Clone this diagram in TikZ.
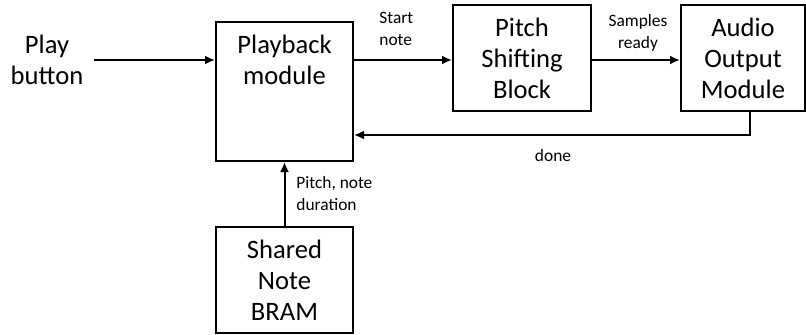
\documentclass[tikz,border=0pt]{standalone}
\usepackage{fontspec}
\setmainfont{Carlito}
\usetikzlibrary{arrows.meta}

\tikzset{
  block/.style={draw, line width=1pt, inner sep=0pt, align=center, font=\fontsize{13.3}{15.5}\selectfont},
  big/.style={align=center, inner sep=1pt, font=\fontsize{13.3}{15.5}\selectfont},
  small/.style={inner sep=0pt, font=\fontsize{8.7}{11}\selectfont},
  sig/.style={line width=1pt, -{Latex[length=5pt,width=4.5pt]}}
}

\begin{document}
\begin{tikzpicture}[x=0.5pt, y=-0.5pt]
\useasboundingbox (0,0) rectangle (806,334);

%Blocks
\node[big] (play) at (47,60) {Play\\button};
\node[block, minimum width=68.5pt, minimum height=69.5pt] (playback) at (284.5,91.5) {};
\node[big, anchor=north] (playbacktxt) at (284.5,33) {Playback\\module};
\node[block, minimum width=69pt, minimum height=53pt] (pitch) at (522,58) {Pitch\\Shifting\\Block};
\node[block, minimum width=62pt, minimum height=53pt] (audio) at (743,58) {Audio\\Output\\Module};
\node[block, minimum width=68.5pt, minimum height=53pt] (bram) at (284.5,280) {Shared\\Note\\BRAM};

%Labels
\node[small, anchor=west, align=left] (startlbl) at (379,29) {Start\\note};
\node[small, align=center] (sampleslbl) at (638,33) {Samples\\ready};
\node[small] (donelbl) at (553,156) {done};
\node[small, anchor=west, align=left] (pitchlbl) at (296,194) {Pitch, note\\duration};

%Arrows
\coordinate (playstart) at (94,60);
\coordinate (doneturn) at (750,135);
\draw[sig] (playstart) -- (playstart -| playback.west);
\draw[sig] (playstart -| playback.east) -- (playstart -| pitch.west);
\draw[sig] (playstart -| pitch.east) -- (playstart -| audio.west);
\draw[sig] (doneturn |- audio.south) -- (doneturn) -- (doneturn -| playback.east);
\draw[sig] (bram.north) -- (playback.south);

\end{tikzpicture}
\end{document}
